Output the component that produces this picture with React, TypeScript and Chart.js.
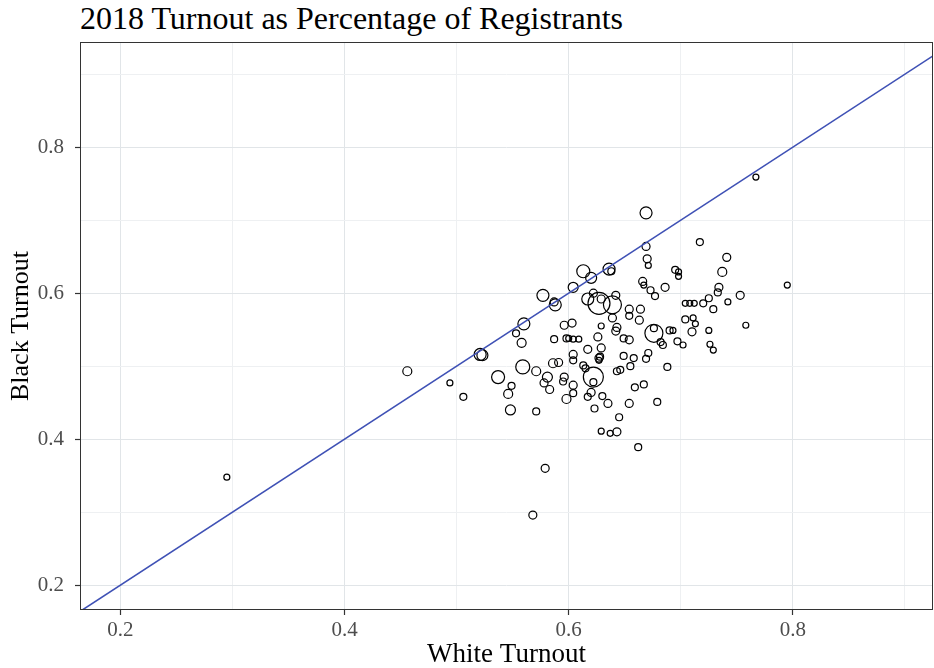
import React, { useEffect, useRef } from 'react';
import { Chart, registerables } from 'chart.js';

Chart.register(...registerables);

const chartTitle = '2018 Turnout as Percentage of Registrants';
const xAxisTitle = 'White Turnout';
const yAxisTitle = 'Black Turnout';
const majorTicks = [0.2, 0.4, 0.6, 0.8];

const xRange = [0.164, 0.925];
const yRange = [0.166, 0.944];

// reference line y = x
const refLineX = [0.1, 1.0];
const refLineY = [0.1, 1.0];

const whiteTurnout = [
  0.295, 0.456, 0.494, 0.506, 0.521, 0.523, 0.558, 0.559, 0.537, 0.549,
  0.546, 0.548, 0.571, 0.571, 0.586, 0.591, 0.581, 0.578, 0.583, 0.596,
  0.595, 0.604, 0.598, 0.604, 0.604, 0.604, 0.613, 0.615, 0.622, 0.622,
  0.620, 0.617, 0.623, 0.629, 0.637, 0.643, 0.579, 0.568, 0.662, 0.630,
  0.635, 0.654, 0.679, 0.645, 0.667, 0.659, 0.643, 0.646, 0.655, 0.649,
  0.658, 0.671, 0.669, 0.688, 0.627, 0.628, 0.627, 0.617, 0.629, 0.596,
  0.603, 0.629, 0.642, 0.649, 0.654, 0.676, 0.676, 0.587, 0.600, 0.604,
  0.609, 0.626, 0.682, 0.684, 0.697, 0.702, 0.726, 0.729, 0.690, 0.693,
  0.710, 0.725, 0.758, 0.704, 0.711, 0.713, 0.729, 0.704, 0.708, 0.712,
  0.720, 0.725, 0.742, 0.753, 0.734, 0.733, 0.795, 0.686, 0.677, 0.673,
  0.666, 0.667, 0.695, 0.698, 0.698, 0.737, 0.741, 0.717, 0.767, 0.669,
  0.669, 0.670, 0.671, 0.636, 0.638, 0.613, 0.620, 0.604, 0.577, 0.587,
  0.588, 0.622, 0.617, 0.627, 0.639, 0.629, 0.642, 0.639, 0.654, 0.664,
  0.654, 0.663, 0.643, 0.553, 0.560, 0.598,
];

const blackTurnout = [
  0.348, 0.493, 0.477, 0.458, 0.516, 0.515, 0.532, 0.499, 0.485, 0.473,
  0.462, 0.440, 0.438, 0.493, 0.504, 0.505, 0.485, 0.477, 0.468, 0.485,
  0.479, 0.474, 0.455, 0.463, 0.516, 0.508, 0.501, 0.497, 0.485, 0.478,
  0.464, 0.458, 0.442, 0.411, 0.408, 0.410, 0.360, 0.296, 0.389, 0.459,
  0.449, 0.449, 0.451, 0.430, 0.475, 0.471, 0.493, 0.495, 0.500, 0.514,
  0.511, 0.518, 0.510, 0.499, 0.511, 0.513, 0.508, 0.523, 0.525, 0.556,
  0.559, 0.555, 0.548, 0.538, 0.536, 0.545, 0.552, 0.537, 0.538, 0.537,
  0.537, 0.540, 0.533, 0.529, 0.534, 0.529, 0.530, 0.522, 0.549, 0.549,
  0.547, 0.549, 0.556, 0.564, 0.566, 0.558, 0.578, 0.586, 0.586, 0.586,
  0.586, 0.593, 0.588, 0.597, 0.608, 0.601, 0.611, 0.608, 0.596, 0.604,
  0.616, 0.611, 0.632, 0.629, 0.623, 0.629, 0.649, 0.670, 0.759, 0.710,
  0.664, 0.647, 0.638, 0.633, 0.630, 0.630, 0.621, 0.608, 0.597, 0.588,
  0.584, 0.600, 0.592, 0.586, 0.584, 0.592, 0.597, 0.566, 0.578, 0.578,
  0.569, 0.563, 0.553, 0.545, 0.558, 0.538,
];

// relative marker size
const pointSize = [
  3, 4.5, 3, 3.5, 6, 5.5, 4.5, 7, 6.5, 3.5,
  4.5, 5, 3.5, 4.5, 4.5, 4, 5, 4, 4, 4,
  3.5, 4, 4.5, 3.5, 4, 3.5, 3.5, 3.5, 10, 3.5,
  4, 3.5, 3.5, 3, 3, 4, 4, 4, 3.5, 3.5,
  4, 4, 3.5, 3.5, 3.5, 3.5, 3.5, 3.5, 3.5, 3.5,
  3.5, 3.5, 3.5, 3.5, 4, 3.5, 3, 4, 4, 4,
  4, 3, 4, 3.5, 4, 9, 3.5, 3.5, 3, 3,
  3, 4, 3.5, 3.5, 3.5, 3, 3, 3, 3.5, 3,
  4, 3, 3, 3.5, 3, 3, 3.5, 3, 3, 3,
  3.5, 3.5, 3, 4, 4, 3.5, 3, 4, 3.5, 3.5,
  4, 3, 3.5, 3, 3, 4.5, 4, 3.5, 3, 6,
  4, 4, 3, 6, 3.5, 6.5, 5.5, 5, 6, 4,
  6, 4, 6, 11, 9, 4, 4, 4, 4, 4,
  3.5, 4, 4, 3.5, 6, 3.5,
];

const SERIF = "'Liberation Serif', 'Times New Roman', serif";

const isMajor = (v: number) => Math.round(v * 10) % 2 === 0;

const panelBorder = {
  id: 'panelBorder',
  afterDatasetsDraw(chart: any) {
    const { ctx, chartArea } = chart;
    ctx.save();
    ctx.strokeStyle = '#333333';
    ctx.lineWidth = 1;
    ctx.strokeRect(chartArea.left + 0.5, chartArea.top + 0.5, chartArea.right - chartArea.left - 1, chartArea.bottom - chartArea.top - 1);
    ctx.restore();
  },
};

export default function App() {
  const canvasRef = useRef<HTMLCanvasElement | null>(null);

  useEffect(() => {
    if (!canvasRef.current) return;
    const scatterData = whiteTurnout.map((x, i) => ({ x, y: blackTurnout[i] }));
    const lineData = refLineX.map((x, i) => ({ x, y: refLineY[i] }));

    const gridColor = (ctx: any) => (isMajor(ctx.tick.value) ? '#e1e5e8' : '#eef0f2');
    const tickColor = (ctx: any) => (isMajor(ctx.tick.value) ? '#333333' : 'rgba(0,0,0,0)');
    const tickLabel = (v: any) => {
      const n = Number(v);
      return majorTicks.some((t) => Math.abs(t - n) < 1e-6) ? n.toFixed(1) : '';
    };

    const chart = new Chart(canvasRef.current, {
      type: 'scatter',
      data: {
        datasets: [
          {
            type: 'line',
            data: lineData,
            borderColor: '#3f51b5',
            borderWidth: 1.6,
            pointRadius: 0,
            fill: false,
            order: 0,
          } as any,
          {
            data: scatterData,
            pointRadius: pointSize,
            pointHoverRadius: pointSize,
            backgroundColor: 'rgba(0,0,0,0)',
            borderColor: '#000000',
            borderWidth: 1.2,
            order: 1,
          },
        ],
      },
      options: {
        animation: false,
        responsive: false,
        devicePixelRatio: 1,
        events: [],
        layout: { autoPadding: false, padding: { left: 8, right: 1, top: 42, bottom: 0 } },
        plugins: {
          legend: { display: false },
          title: { display: false },
          tooltip: { enabled: false },
        },
        scales: {
          x: {
            type: 'linear',
            min: xRange[0],
            max: xRange[1],
            afterFit: (s: any) => {
              s.height = 58;
              s.paddingLeft = 0;
              s.paddingRight = 0;
            },
            border: { display: false },
            grid: { color: gridColor, tickColor, lineWidth: 1, tickLength: 5, tickWidth: 1.2 },
            ticks: {
              stepSize: 0.1,
              includeBounds: false,
              autoSkip: false,
              maxRotation: 0,
              padding: 3,
              color: '#4d4d4d',
              font: { family: SERIF, size: 21 },
              callback: tickLabel,
            },
            title: {
              display: true,
              text: xAxisTitle,
              color: '#000000',
              font: { family: SERIF, size: 27, lineHeight: 1 },
              padding: 0,
            },
          },
          y: {
            type: 'linear',
            min: yRange[0],
            max: yRange[1],
            afterFit: (s: any) => {
              s.width = 72;
              s.paddingTop = 0;
              s.paddingBottom = 0;
            },
            border: { display: false },
            grid: { color: gridColor, tickColor, lineWidth: 1, tickLength: 5, tickWidth: 1.2 },
            ticks: {
              stepSize: 0.1,
              includeBounds: false,
              autoSkip: false,
              padding: 11,
              color: '#4d4d4d',
              font: { family: SERIF, size: 21 },
              callback: tickLabel,
            },
            title: {
              display: true,
              text: yAxisTitle,
              color: '#000000',
              font: { family: SERIF, size: 26, lineHeight: 1 },
              padding: 0,
            },
          },
        },
      },
      plugins: [panelBorder],
    });
    return () => chart.destroy();
  }, []);

  return (
    <div style={{ position: 'fixed', left: 0, top: 0, width: 934, height: 668, background: '#ffffff' }}>
      <div
        style={{
          position: 'absolute',
          left: 80,
          top: 2,
          fontFamily: SERIF,
          fontSize: 32,
          lineHeight: '32px',
          color: '#000000',
          whiteSpace: 'nowrap',
        }}
      >
        {chartTitle}
      </div>
      <canvas ref={canvasRef} width={934} height={668} style={{ position: 'absolute', left: 0, top: 0 }} />
    </div>
  );
}
